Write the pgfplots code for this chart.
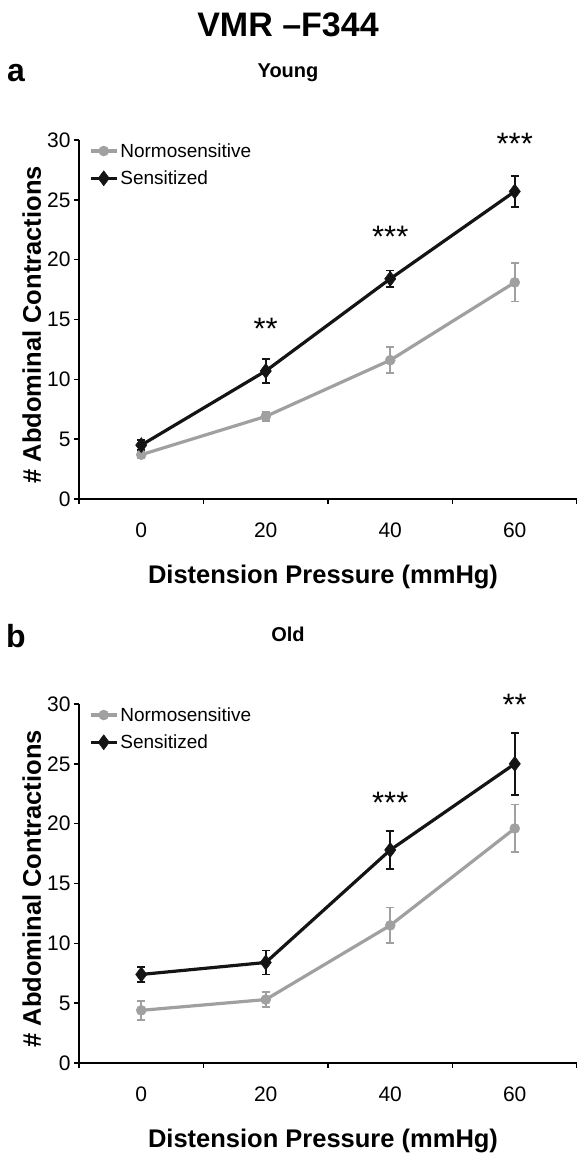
\documentclass[border=0pt]{standalone}
\usepackage{fontspec}
\setmainfont{Liberation Sans}
\usepackage{pgfplots}
\usepackage{pgfplotstable}
\pgfplotsset{compat=1.18}
\definecolor{ngray}{RGB}{160,160,160}
\definecolor{sblack}{RGB}{20,20,20}

\pgfplotstableread{
x y e
0 3.7 0.3
1 6.9 0.4
2 11.6 1.1
3 18.1 1.6
}\youngnormo
\pgfplotstableread{
x y e
0 4.5 0.4
1 10.7 1.0
2 18.4 0.7
3 25.7 1.3
}\youngsens
\pgfplotstableread{
x y e
0 4.4 0.8
1 5.3 0.6
2 11.5 1.5
3 19.6 2.0
}\oldnormo
\pgfplotstableread{
x y e
0 7.4 0.6
1 8.4 1.0
2 17.8 1.6
3 25.0 2.6
}\oldsens

\tikzset{stars/.style={font=\fontsize{31}{31}\selectfont, anchor=center}}
\pgfplotsset{
 vmr/.style={
  scale only axis, width=498pt, height=359pt,
  xmin=-0.5, xmax=3.5, ymin=0, ymax=30,
  axis x line*=bottom, axis y line*=left,
  axis line style={line width=1.6pt, -},
  xtick={-0.5,0.5,1.5,2.5,3.5}, xticklabels={},
  extra x ticks={0,1,2,3}, extra x tick labels={0,20,40,60},
  extra x tick style={major tick length=0pt, xticklabel style={yshift=-20pt}},
  ytick={0,5,...,30},
  tick align=outside, major tick length=5pt,
  tick style={line width=1.6pt, black},
  ticklabel style={font=\fontsize{21}{21}\selectfont},
  /pgf/number format/assume math mode=true,
  clip=false,
  xlabel={Distension Pressure (mmHg)},
  ylabel={\# Abdominal Contractions},
  label style={font=\bfseries\fontsize{25.5}{25.5}\selectfont},
  xlabel style={at={(axis description cs:0.49,-0.218)}, anchor=center},
  ylabel style={at={(axis description cs:-0.095,0.485)}, anchor=center},
  legend style={draw=none, fill=none, at={(axis cs:-0.42,29.9)}, anchor=north west,
     font=\fontsize{19}{19}\selectfont, row sep=8pt, inner sep=0pt},
  legend cell align=left,
  legend image code/.code={\draw[mark repeat=2,mark phase=2] plot coordinates {(0pt,0pt) (13pt,0pt) (26pt,0pt)};},
 },
 normo/.style={color=ngray, line width=3.2pt, mark=*, mark size=5pt,
   mark options={solid, fill=ngray, line width=0.5pt},
   error bars/.cd, y dir=both, y explicit,
   error bar style={line width=1.8pt, ngray},
   error mark options={rotate=90, mark size=4pt, line width=1.8pt, ngray}},
 sens/.style={color=sblack, line width=3.2pt, mark=diamond*, mark size=7.5pt,
   mark options={solid, fill=sblack, line width=0.5pt},
   error bars/.cd, y dir=both, y explicit,
   error bar style={line width=1.8pt, sblack},
   error mark options={rotate=90, mark size=4pt, line width=1.8pt, sblack}},
}

\begin{document}
\begin{tikzpicture}
\useasboundingbox (0,0) rectangle (577pt,1154pt);
\node[font=\bfseries\fontsize{34}{34}\selectfont, anchor=base] at (288pt,1117pt) {VMR –F344};
\node[font=\bfseries\fontsize{32}{32}\selectfont, anchor=base] at (16pt,1072pt) {a};
\node[font=\bfseries\fontsize{20}{20}\selectfont, anchor=base] at (288pt,1076pt) {Young};
\node[font=\bfseries\fontsize{32}{32}\selectfont, anchor=base] at (16pt,506pt) {b};
\node[font=\bfseries\fontsize{20}{20}\selectfont, anchor=base] at (288pt,512pt) {Old};

\begin{axis}[vmr, at={(79pt,655pt)}, anchor=south west]
\addplot[normo] table[x=x,y=y,y error=e] {\youngnormo};
\addlegendentry{Normosensitive}
\addplot[sens] table[x=x,y=y,y error=e] {\youngsens};
\addlegendentry{Sensitized}
\node[stars] at (axis cs:1,14.2) {**};
\node[stars] at (axis cs:2,21.9) {***};
\node[stars] at (axis cs:3,29.7) {***};
\end{axis}

\begin{axis}[vmr, at={(79pt,91pt)}, anchor=south west]
\addplot[normo] table[x=x,y=y,y error=e] {\oldnormo};
\addlegendentry{Normosensitive}
\addplot[sens] table[x=x,y=y,y error=e] {\oldsens};
\addlegendentry{Sensitized}
\node[stars] at (axis cs:2,21.7) {***};
\node[stars] at (axis cs:3,29.9) {**};
\end{axis}
\end{tikzpicture}
\end{document}
